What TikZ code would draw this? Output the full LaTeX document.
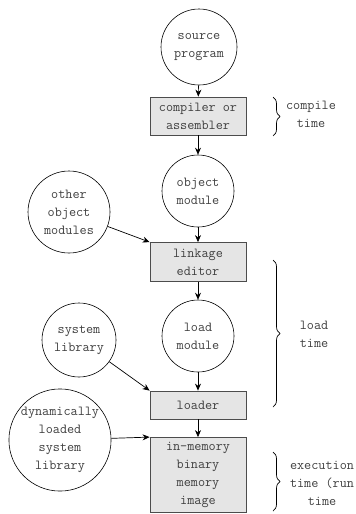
\documentclass[tikz,border=0pt]{standalone}
\usepackage{fontspec}
\usepackage{tikz}
\usetikzlibrary{arrows.meta, decorations.pathreplacing}

\tikzset{
    proc/.style={draw=black!70, fill=gray!20, line width=0.8pt, minimum width=96pt, inner sep=2pt, align=center},
    item/.style={draw, circle, fill=white, line width=0.6pt, inner sep=0pt, align=center},
    flow/.style={-{Stealth[length=7pt, width=6pt]}, line width=0.7pt},
    span/.style={decorate, decoration={brace, amplitude=7pt}, line width=0.7pt}
}

\begin{document}
\begin{tikzpicture}[x=1pt, y=-1pt, font=\ttfamily\fontsize{13.8}{18}\selectfont, text=black!75]
    \useasboundingbox (0,0) rectangle (356,514);
    % main chain
    \node[item, minimum size=76pt] (src) at (199,47) {source\\program};
    \node[proc, minimum height=38pt] (comp) at (198,116) {compiler or\\assembler};
    \node[item, minimum size=72pt] (obj) at (198,191) {object\\module};
    \node[proc, minimum height=39pt] (link) at (198,262) {linkage\\editor};
    \node[item, minimum size=72pt] (loadmod) at (198,336) {load\\module};
    \node[proc, minimum height=28pt] (loader) at (198,405) {loader};
    \node[proc, minimum height=75pt] (memimg) at (198,475) {in-memory\\binary\\memory\\image};
    % side inputs
    \node[item, minimum size=82pt] (other) at (69,212) {other\\object\\modules};
    \node[item, minimum size=74pt] (syslib) at (79,340) {system\\library};
    \node[item, minimum size=94pt] (dynlib) at (60,440) {dynamically\\loaded\\system\\library};

    \draw[flow] (src) -- (comp);
    \draw[flow] (comp) -- (obj);
    \draw[flow] (obj) -- (link);
    \draw[flow] (link) -- (loadmod);
    \draw[flow] (loadmod) -- (loader);
    \draw[flow] (loader) -- (memimg);
    \draw[flow] (other) -- (link.north west);
    \draw[flow] (syslib) -- (loader.north west);
    \draw[flow] (dynlib) -- (memimg.north west);

    % time spans
    \draw[span] (273,97) -- (273,136);
    \node[align=center] (ctime) at (311,114) {compile\\time};
    \draw[span] (273,260) -- (273,407);
    \node[align=center] (ltime) at (314,334) {load\\time};
    \draw[span] (273,452) -- (273,511);
    \node[align=center] (etime) at (322,483) {execution\\time (run\\time};
\end{tikzpicture}
\end{document}
